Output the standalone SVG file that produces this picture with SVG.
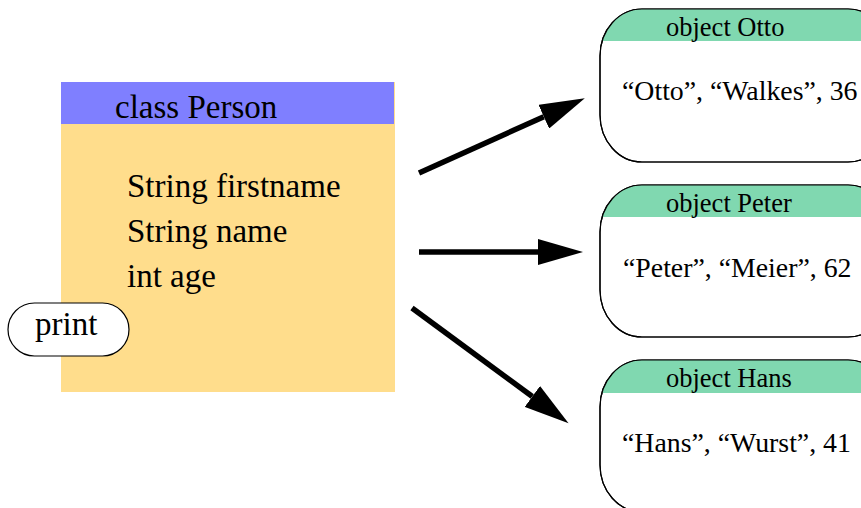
<svg xmlns="http://www.w3.org/2000/svg" width="861" height="508" viewBox="0 0 861 508">
<style>
text{font-family:"Liberation Serif","Times New Roman",serif;fill:#000}
.big{font-size:33px}
.title{font-size:26.5px}
.data{font-size:27.8px}
.obj{fill:#fff;stroke:#000;stroke-width:1.2}
.hdr{fill:#80d8b0}
.conn{stroke:#000;stroke-width:5.5;fill:none}
</style>
<defs>
<marker id="ah" markerUnits="userSpaceOnUse" markerWidth="46" markerHeight="26" refX="0" refY="13" orient="auto" viewBox="0 0 46 26">
<path d="M0,0 L45,13 L0,26 z" fill="#000"/>
</marker>
<clipPath id="c1"><rect x="600" y="9" width="290" height="153" rx="42" ry="47"/></clipPath>
<clipPath id="c2"><rect x="600" y="185" width="290" height="152" rx="42" ry="47"/></clipPath>
<clipPath id="c3"><rect x="600" y="360" width="290" height="152" rx="42" ry="47"/></clipPath>
</defs>
<g id="class-person">
<rect x="61" y="82" width="334" height="310" fill="#ffdd8c"/>
<rect x="61" y="82" width="333" height="42" fill="#7f7fff"/>
<text class="big" x="115" y="118">class Person</text>
<text class="big" x="127" y="197">String firstname</text>
<text class="big" x="127" y="242">String name</text>
<text class="big" x="127" y="287">int age</text>
</g>
<g id="print">
<rect x="8" y="303" width="121" height="53" rx="26.5" ry="26.5" fill="#fff" stroke="#000" stroke-width="1.2"/>
<text class="big" x="35" y="335">print</text>
</g>
<g id="object-otto">
<rect class="obj" x="600" y="9" width="290" height="153" rx="42" ry="47"/>
<rect class="hdr" x="600" y="9" width="290" height="32" clip-path="url(#c1)"/>
<rect x="600" y="9" width="290" height="153" rx="42" ry="47" fill="none" stroke="#000" stroke-width="1.2"/>
<text class="title" x="666" y="36">object Otto</text>
<text class="data" x="622" y="100">“Otto”, “Walkes”, 36</text>
</g>
<g id="object-peter">
<rect class="obj" x="600" y="185" width="290" height="152" rx="42" ry="47"/>
<rect class="hdr" x="600" y="185" width="290" height="32" clip-path="url(#c2)"/>
<rect x="600" y="185" width="290" height="152" rx="42" ry="47" fill="none" stroke="#000" stroke-width="1.2"/>
<text class="title" x="666" y="212">object Peter</text>
<text class="data" x="623" y="277">“Peter”, “Meier”, 62</text>
</g>
<g id="object-hans">
<rect class="obj" x="600" y="360" width="290" height="152" rx="42" ry="47"/>
<rect class="hdr" x="600" y="360" width="290" height="33" clip-path="url(#c3)"/>
<rect x="600" y="360" width="290" height="152" rx="42" ry="47" fill="none" stroke="#000" stroke-width="1.2"/>
<text class="title" x="666" y="387">object Hans</text>
<text class="data" x="622" y="452">“Hans”, “Wurst”, 41</text>
</g>
<g id="connectors">
<line class="conn" x1="419" y1="173" x2="543.8" y2="116.7" marker-end="url(#ah)"/>
<line class="conn" x1="419" y1="252" x2="538" y2="252" marker-end="url(#ah)"/>
<line class="conn" x1="412" y1="308" x2="532.3" y2="396.5" marker-end="url(#ah)"/>
</g>
</svg>
